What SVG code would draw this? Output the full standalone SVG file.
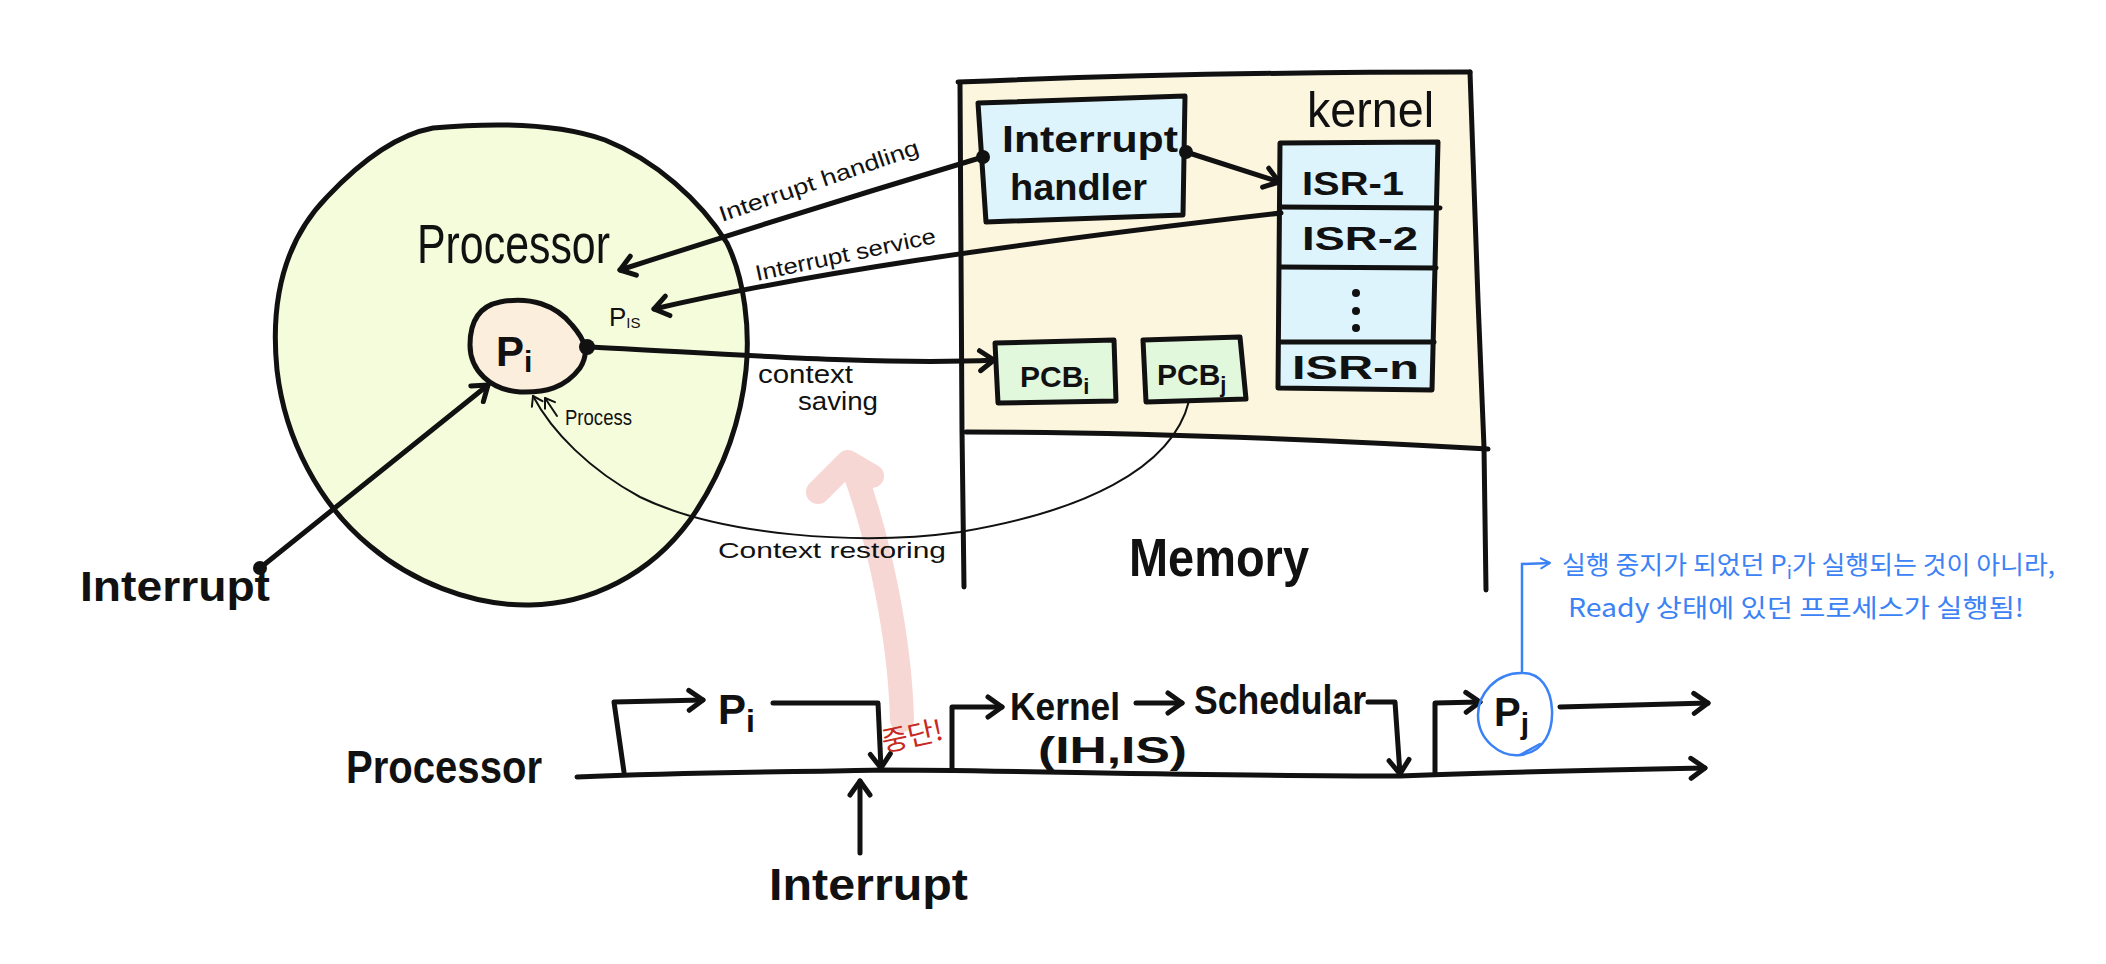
<svg xmlns="http://www.w3.org/2000/svg" width="2106" height="964" viewBox="0 0 2106 964">
<defs>
<style>
.ln{fill:none;stroke:#111;stroke-width:5;stroke-linecap:round;stroke-linejoin:round}
.thin{fill:none;stroke:#111;stroke-width:2;stroke-linecap:round;stroke-linejoin:round}
.box{stroke:#111;stroke-width:5;stroke-linejoin:round}
.hw{font-family:"Liberation Sans","DejaVu Sans",sans-serif;fill:#111}
.b{font-weight:bold}
.sm{font-family:"Liberation Sans","DejaVu Sans",sans-serif;fill:#111;font-size:22px}
.kr{font-family:"Noto Sans CJK KR","Noto Sans",sans-serif;fill:#3b82f6;font-size:25px}
</style>
<marker id="ah" viewBox="-18 -14 22 28" markerWidth="22" markerHeight="28" refX="0" refY="0" orient="auto" markerUnits="userSpaceOnUse">
<path d="M-14,-10 L0,0 L-14,10" fill="none" stroke="#111" stroke-width="5" stroke-linecap="round" stroke-linejoin="round"/>
</marker>
<marker id="aht" viewBox="-12 -9 14 18" markerWidth="14" markerHeight="18" refX="0" refY="0" orient="auto" markerUnits="userSpaceOnUse">
<path d="M-9,-6 L0,0 L-9,6" fill="none" stroke="#111" stroke-width="2" stroke-linecap="round" stroke-linejoin="round"/>
</marker>
<marker id="ahb" viewBox="-12 -9 14 18" markerWidth="14" markerHeight="18" refX="0" refY="0" orient="auto" markerUnits="userSpaceOnUse">
<path d="M-9,-5 L0,0 L-9,5" fill="none" stroke="#3b82f6" stroke-width="2" stroke-linecap="round" stroke-linejoin="round"/>
</marker>
</defs>
<rect width="2106" height="964" fill="#fff"/>

<!-- pink highlight arrow -->
<g id="highlight" fill="none" stroke="#f7d7d4" stroke-width="24" stroke-linecap="round" stroke-linejoin="round">
<path d="M902,720 C 900,640 880,540 852,465"/>
<path d="M818,492 L848,462 L872,476"/>
</g>

<!-- Processor -->
<g id="processor">
<path class="box" fill="#f5fcdc" d="M433,128 C500,122 560,124 605,140 C655,160 700,200 727,243 C745,280 750,330 746,370 C741,420 725,470 690,520 C650,575 590,604 530,605 C470,606 410,580 370,546 C320,505 285,440 277,370 C270,300 285,240 327,197 C360,162 395,135 433,128 Z"/>
<text class="hw" x="417" y="263" font-size="56" textLength="193" lengthAdjust="spacingAndGlyphs">Processor</text>
</g>

<g id="pi">
<path class="box" fill="#fbeedd" d="M500,302 C530,296 556,305 572,325 C585,340 590,352 580,368 C565,388 545,393 520,392 C490,390 470,370 470,345 C470,320 480,306 500,302 Z"/>
<text class="hw b" x="496" y="366" font-size="42">P<tspan font-size="30" dy="6">i</tspan></text>
</g>

<g id="pis">
<text class="hw" x="609" y="326" font-size="26">P<tspan font-size="15" dy="2">IS</tspan></text>
</g>

<g id="interrupt-left">
<circle cx="260" cy="568" r="7" fill="#111"/>
<text class="hw b" x="80" y="601" font-size="42" textLength="190" lengthAdjust="spacingAndGlyphs">Interrupt</text>
</g>

<!-- Memory -->
<g id="memory">
<path fill="#fdf6df" d="M958,82 L1470,72 L1484,447 L966,432 Z"/>
<path class="ln" d="M958,82 C1100,76 1300,72 1470,72"/>
<path class="ln" d="M960,84 L962,430 L964,587"/>
<path class="ln" d="M1470,72 L1478,300 L1484,447 L1486,590"/>
<path class="ln" d="M966,432 C1150,432 1330,440 1488,449"/>
<text class="hw" x="1307" y="127" font-size="50" textLength="127" lengthAdjust="spacingAndGlyphs">kernel</text>
<text class="hw b" x="1129" y="576" font-size="54" textLength="180" lengthAdjust="spacingAndGlyphs">Memory</text>
</g>

<g id="handler">
<path class="box" fill="#ddf4fc" d="M978,103 L1185,96 L1183,215 L986,222 Z"/>
<text class="hw b" x="1002" y="152" font-size="36" textLength="176" lengthAdjust="spacingAndGlyphs">Interrupt</text>
<text class="hw b" x="1010" y="200" font-size="36" textLength="137" lengthAdjust="spacingAndGlyphs">handler</text>
</g>

<g id="isr">
<path class="box" fill="#ddf4fc" d="M1280,143 L1438,142 L1432,390 L1278,388 Z"/>
<path class="ln" d="M1280,207 L1440,208"/>
<path class="ln" d="M1280,267 L1436,268"/>
<path class="ln" d="M1280,342 L1434,342"/>
<text class="hw b" x="1302" y="195" font-size="34" textLength="102" lengthAdjust="spacingAndGlyphs">ISR-1</text>
<text class="hw b" x="1302" y="250" font-size="34" textLength="116" lengthAdjust="spacingAndGlyphs">ISR-2</text>
<circle cx="1356" cy="293" r="4" fill="#111"/>
<circle cx="1356" cy="311" r="4" fill="#111"/>
<circle cx="1356" cy="328" r="4" fill="#111"/>
<text class="hw b" x="1292" y="379" font-size="34" textLength="127" lengthAdjust="spacingAndGlyphs">ISR-n</text>
</g>

<g id="pcbi">
<path class="box" fill="#e2f8dd" d="M995,343 L1114,340 L1116,401 L998,403 Z"/>
<text class="hw b" x="1020" y="387" font-size="30">PCB<tspan font-size="22" dy="7">i</tspan></text>
</g>

<g id="pcbj">
<path class="box" fill="#e2f8dd" d="M1143,340 L1240,337 L1246,399 L1146,402 Z"/>
<text class="hw b" x="1157" y="385" font-size="30">PCB<tspan font-size="22" dy="7">j</tspan></text>
</g>

<!-- connectors -->
<g id="connectors">
<path class="ln" marker-end="url(#ah)" d="M260,568 L488,385"/>
<circle cx="983" cy="157" r="7" fill="#111"/>
<path class="ln" marker-end="url(#ah)" d="M983,157 C880,188 760,225 620,270"/>
<circle cx="1186" cy="152" r="7" fill="#111"/>
<path class="ln" marker-end="url(#ah)" d="M1186,152 L1279,182"/>
<path class="ln" marker-end="url(#ah)" d="M1281,213 C1000,245 800,275 654,309"/>
<circle cx="587" cy="347" r="8" fill="#111"/>
<path class="ln" marker-end="url(#ah)" d="M587,347 C700,352 880,366 994,360"/>
<path class="thin" marker-end="url(#aht)" d="M1189,401 C1172,470 1080,512 960,532 C860,546 720,536 640,497 C590,470 552,432 533,396"/>
<path class="thin" marker-end="url(#aht)" d="M557,416 L545,398"/>
</g>

<g id="labels">
<text class="sm" transform="translate(722,222) rotate(-19)" textLength="210" lengthAdjust="spacingAndGlyphs">Interrupt handling</text>
<text class="sm" transform="translate(757,281) rotate(-12)" textLength="184" lengthAdjust="spacingAndGlyphs">Interrupt service</text>
<text class="hw" x="758" y="383" font-size="26" textLength="95" lengthAdjust="spacingAndGlyphs">context</text>
<text class="hw" x="798" y="410" font-size="26" textLength="80" lengthAdjust="spacingAndGlyphs">saving</text>
<text class="sm" x="565" y="425" textLength="67" lengthAdjust="spacingAndGlyphs">Process</text>
<text class="sm" x="718" y="558" font-size="24" textLength="228" lengthAdjust="spacingAndGlyphs">Context restoring</text>
</g>

<!-- timeline -->
<g id="timeline">
<text class="hw b" x="346" y="783" font-size="46" textLength="196" lengthAdjust="spacingAndGlyphs">Processor</text>
<path class="ln" marker-end="url(#ah)" d="M577,777 C700,772 800,772 880,770 C1000,770 1200,776 1400,776 C1500,772 1600,770 1705,768"/>
<path class="ln" marker-end="url(#ah)" d="M624,772 L614,702 L703,700"/>
<text class="hw b" x="718" y="724" font-size="42">P<tspan font-size="32" dy="8">i</tspan></text>
<path class="ln" marker-end="url(#ah)" d="M773,703 L878,703 L881,768"/>
<path class="ln" marker-end="url(#ah)" d="M860,853 L860,781"/>
<text class="hw b" x="769" y="900" font-size="44" textLength="199" lengthAdjust="spacingAndGlyphs">Interrupt</text>
<text font-family="'Noto Sans CJK KR','Noto Sans',sans-serif" fill="#c62a20" font-size="28" transform="translate(884,752) rotate(-12)" textLength="62" lengthAdjust="spacingAndGlyphs">중단!</text>
<path class="ln" marker-end="url(#ah)" d="M952,770 L952,707 L1002,707"/>
<text class="hw b" x="1010" y="720" font-size="38" textLength="110" lengthAdjust="spacingAndGlyphs">Kernel</text>
<path class="ln" marker-end="url(#ah)" d="M1136,703 L1182,703"/>
<text class="hw b" x="1194" y="714" font-size="40" textLength="172" lengthAdjust="spacingAndGlyphs">Schedular</text>
<text class="hw b" x="1038" y="763" font-size="36" textLength="149" lengthAdjust="spacingAndGlyphs">(IH,IS)</text>
<path class="ln" marker-end="url(#ah)" d="M1368,702 L1395,702 L1400,774"/>
<path class="ln" marker-end="url(#ah)" d="M1435,773 L1435,703 L1480,702"/>
<text class="hw b" x="1494" y="726" font-size="40">P<tspan font-size="30" dy="8">j</tspan></text>
<path class="ln" marker-end="url(#ah)" d="M1560,707 L1708,703"/>
</g>

<!-- note -->
<g id="note">
<path fill="none" stroke="#3b82f6" stroke-width="2.5" d="M1523,673 C1495,672 1478,695 1478,715 C1478,740 1500,757 1520,755 C1545,752 1553,730 1552,710 C1551,688 1540,673 1523,673"/>
<path fill="none" stroke="#3b82f6" stroke-width="2.5" stroke-linecap="round" d="M1520,755 L1540,744"/>
<path fill="none" stroke="#3b82f6" stroke-width="2.5" marker-end="url(#ahb)" d="M1522,673 L1522,564 L1550,563"/>
<text class="kr" x="1562" y="574" textLength="493" lengthAdjust="spacingAndGlyphs">실행 중지가 되었던 P<tspan font-size="18" dy="5">i</tspan><tspan dy="-5">가 실행되는 것이 아니라,</tspan></text>
<text class="kr" x="1568" y="617" textLength="456" lengthAdjust="spacingAndGlyphs">Ready 상태에 있던 프로세스가 실행됨!</text>
</g>
</svg>
